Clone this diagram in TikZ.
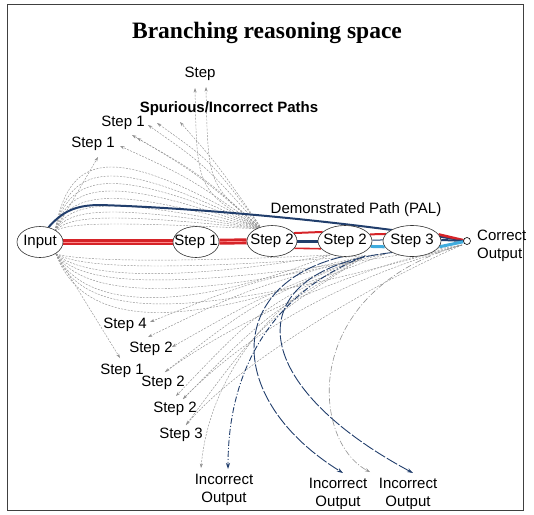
\documentclass[tikz,border=0pt]{standalone}
\usepackage{fontspec}
\setmainfont{Liberation Sans}
\newfontfamily\titlefont{Liberation Serif}
\usetikzlibrary{arrows.meta,shapes.geometric}
\definecolor{redc}{RGB}{214,35,40}
\definecolor{navy}{RGB}{33,62,108}
\definecolor{cyanc}{RGB}{64,172,222}
\definecolor{gline}{RGB}{145,145,145}
\pgfdeclarelayer{bg}
\pgfsetlayers{bg,main}
\begin{document}
\begin{tikzpicture}[x=1pt,y=-1pt,
 txt/.style={font=\fontsize{15}{18}\selectfont, inner sep=0pt},
 stepnode/.style={ellipse, draw=black!80, line width=0.6pt, fill=white, minimum height=31pt, inner xsep=-6pt, inner ysep=0pt, font=\fontsize{15}{18}\selectfont},
 gd/.style={draw=gline, line width=0.45pt, dash pattern=on 2pt off 1.3pt},
 ga/.style={gd, -{Stealth[length=4.5pt,width=3pt]}},
 gdd/.style={draw=gline, line width=0.6pt, dash pattern=on 6pt off 2pt on 1pt off 2pt, -{Stealth[length=5pt,width=3.5pt]}},
 nvd/.style={draw=navy, line width=0.9pt, dash pattern=on 6pt off 2pt on 1pt off 2pt, -{Stealth[length=6pt,width=4pt]}},
 nvl/.style={draw=navy, line width=0.9pt, dash pattern=on 12pt off 2pt, -{Stealth[length=6pt,width=4pt]}},
]
\useasboundingbox (0,0) rectangle (534,514);
\draw[black!75, line width=0.8pt] (7,4) rectangle (523,510);

% nodes
\node[font=\titlefont\bfseries\fontsize{23.5}{28}\selectfont, inner sep=0pt] (title) at (267,33) {Branching reasoning space};
\node[stepnode, minimum width=46pt] (in) at (40,242) {Input};
\node[stepnode, minimum width=46pt] (s1) at (196,242) {Step 1};
\node[stepnode, minimum width=50pt] (s2) at (272,241) {Step 2};
\node[stepnode, minimum width=54pt] (s2b) at (345,241) {Step 2};
\node[stepnode, minimum width=58pt] (s3) at (412,241) {Step 3};
\node[circle, draw=black, line width=0.6pt, fill=white, minimum size=7pt, inner sep=0pt] (out) at (467,241) {};

\coordinate (inU) at (55,231);
\coordinate (inD) at (56,254);
\coordinate (s2U) at (262,229);
\coordinate (cvA) at (330,255);
\coordinate (cvB) at (385,254);
\coordinate (cvC) at (462,245);
\coordinate (cv2) at (365,256);

\begin{pgfonlayer}{bg}
% upper bulges Input -> Step 2
\foreach \h in {146,158,168,178,188,198,206,214,222}
  \draw[gd] (inU) .. controls (70,\h) and (120,\h) .. (s2U);
% upper tips
\coordinate (ut0) at (98,157);
\draw[ga] (inU) -- (ut0);
\foreach \i/\tx/\ty/\cx/\cy in {1/120/146/190/178, 2/132/135/195/172, 3/137/138/200/174, 4/148/125/205/165, 5/157/123/212/162, 6/180/122/218/165, 7/195/88/197/190, 8/206/87/208/185}{
  \coordinate (ut\i) at (\tx,\ty);
  \draw[ga] (s2U) .. controls (\cx,\cy) .. (ut\i);
}
% lower bulges Input -> convergence
\foreach \h/\e in {262/cvA, 270/cvB, 280/cvA, 290/cvC, 300/cvB, 312/cvA, 322/cvC, 332/cvB}
  \draw[gd] (inD) .. controls (85,\h) and (190,\h) .. (\e);
% lower tips
\coordinate (lt0) at (120,358);
\draw[ga] (inD) -- (lt0);
\foreach \i/\tx/\ty/\cx/\cy in {1/150/322/250/282, 2/148/337/245/290, 3/172/347/262/296, 4/165/372/255/302, 5/176/396/258/310, 6/183/399/266/315, 7/186/425/262/322}{
  \coordinate (lt\i) at (\tx,\ty);
  \draw[ga] (cv2) .. controls (\cx,\cy) .. (lt\i);
}
\coordinate (lt8) at (201,468);
\draw[ga] (cv2) .. controls (280,290) and (210,370) .. (lt8);
\draw[gd] (cvC) .. controls (360,275) and (260,320) .. (lt6);
\draw[gd] (cvC) .. controls (370,265) and (250,310) .. (lt4);
\draw[gd] (cvC) .. controls (380,280) and (240,360) .. (lt7);

% long curved outputs
\coordinate (io1) at (228,469);
\coordinate (io2) at (343,473);
\coordinate (io3) at (413,473);
\coordinate (io4) at (370,472);
\draw[gdd] (cvC) .. controls (300,290) and (310,440) .. (io4);
\draw[nvd] (cv2) .. controls (280,290) and (228,360) .. (io1);
\draw[nvl] (s2b.-100) .. controls (225,285) and (225,400) .. (io2);
\draw[nvl] (s3.-150) .. controls (240,270) and (240,380) .. (io3);

% demonstrated path
\draw[navy, line width=2pt] (in.60) .. controls (62,212) and (75,205) .. (100,205) .. controls (200,208) and (350,222) .. (out);

% coloured bands
\draw[redc, line width=6pt] (in) -- (s1);
\draw[red!45!white, line width=0.7pt] (in) -- (s1);
\draw[redc, line width=6pt] (s1) -- (s2);
\draw[red!45!white, line width=0.7pt] (s1) -- (s2);
\draw[redc, line width=2pt] (s2.20) -- (s2b.158);
\draw[navy, line width=3pt] (s2) -- (s2b);
\draw[redc, line width=1.6pt] (s2.-18) -- (s2b.198);
\draw[redc, line width=2pt] (s2b.15) -- (s3.165);
\draw[navy, line width=1pt] (s2b.2) -- (s3.178);
\draw[cyanc, line width=3pt] (s2b.-12) -- (s3.192);
\draw[redc, line width=2.5pt] (s3.14) -- (out);
\draw[navy, line width=2pt] (s3.2) -- (out);
\draw[cyanc, line width=3pt] (s3.-12) -- (out);
\end{pgfonlayer}

% labels
\node[txt] (lstep) at (200,74) {Step};
\node[txt, font=\fontsize{15}{18}\selectfont\bfseries] (lsp) at (229,109) {Spurious/Incorrect Paths};
\node[txt] (lu1) at (123,123) {Step 1};
\node[txt] (lu2) at (93,144) {Step 1};
\node[txt] (lpal) at (356,210) {Demonstrated Path (PAL)};
\node[txt, align=left, anchor=west] (lco) at (477,246) {Correct\\Output};
\node[txt] (ld1) at (125,325) {Step 4};
\node[txt] (ld2) at (151,349) {Step 2};
\node[txt] (ld3) at (122,371) {Step 1};
\node[txt] (ld4) at (163,383) {Step 2};
\node[txt] (ld5) at (175,409) {Step 2};
\node[txt] (ld6) at (181,435) {Step 3};
\node[txt, align=center] (lo1) at (224,490) {Incorrect\\Output};
\node[txt, align=center] (lo2) at (338,494) {Incorrect\\Output};
\node[txt, align=center] (lo3) at (408,494) {Incorrect\\Output};
\end{tikzpicture}
\end{document}
